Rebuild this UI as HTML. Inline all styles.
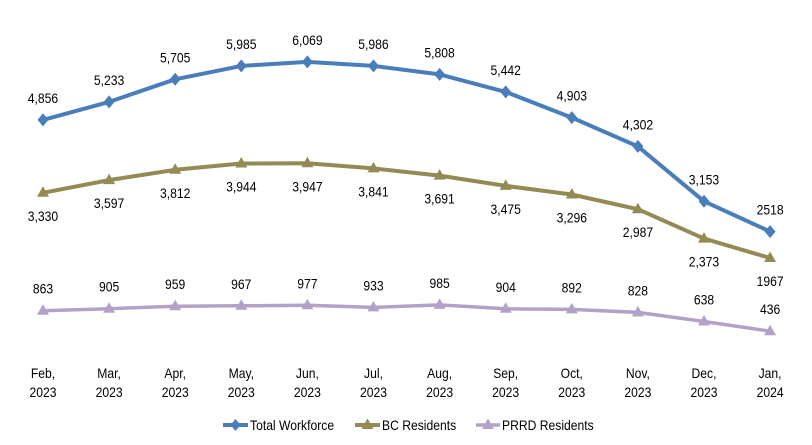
<!DOCTYPE html>
<html><head><meta charset="utf-8"><style>
html,body{margin:0;padding:0;background:#fff;}
svg{display:block;}
text{font-family:"Liberation Sans",Arial,sans-serif;font-size:13.5px;fill:#000;transform-box:fill-box;transform-origin:center;transform:scaleX(0.9);}
text.lg{transform-origin:left center;}
</style></head><body>
<svg width="812" height="445" viewBox="0 0 812 445" xmlns="http://www.w3.org/2000/svg">
<defs>
<marker id="dia" markerUnits="userSpaceOnUse" markerWidth="14" markerHeight="16" refX="7" refY="8" viewBox="0 0 14 16" overflow="visible">
<path d="M7,1.5 L12.5,8 L7,14.5 L1.5,8Z" fill="#4A7EBB"/></marker>
<marker id="triO" markerUnits="userSpaceOnUse" markerWidth="14" markerHeight="14" refX="7" refY="7" viewBox="0 0 14 14" overflow="visible">
<path d="M7,0.5 L13,11 L1,11Z" fill="#948A54"/></marker>
<marker id="triP" markerUnits="userSpaceOnUse" markerWidth="14" markerHeight="14" refX="7" refY="7" viewBox="0 0 14 14" overflow="visible">
<path d="M7,0.5 L13,11 L1,11Z" fill="#B3A2C7"/></marker>
</defs>

<polyline fill="none" stroke="#4A7EBB" stroke-width="4" stroke-linejoin="round" marker-start="url(#dia)" marker-mid="url(#dia)" marker-end="url(#dia)"
points="43,119.9 109.1,101.9 175.2,79.3 241.3,65.9 307.4,61.9 373.5,65.9 439.6,74.4 505.7,91.9 571.8,117.6 637.9,146.4 704,201.3 770.1,231.6"/>
<polyline fill="none" stroke="#948A54" stroke-width="4" stroke-linejoin="round" marker-start="url(#triO)" marker-mid="url(#triO)" marker-end="url(#triO)"
points="43,192.8 109.1,180.1 175.2,169.8 241.3,163.5 307.4,163.3 373.5,168.4 439.6,175.6 505.7,185.9 571.8,194.5 637.9,209.2 704,238.6 770.1,258.0"/>
<polyline fill="none" stroke="#B3A2C7" stroke-width="3.5" stroke-linejoin="round" marker-start="url(#triP)" marker-mid="url(#triP)" marker-end="url(#triP)"
points="43,310.7 109.1,308.7 175.2,306.2 241.3,305.8 307.4,305.3 373.5,307.4 439.6,304.9 505.7,308.8 571.8,309.4 637.9,312.4 704,321.5 770.1,331.2"/>

<g text-anchor="middle">
<text x="43" y="102.9">4,856</text>
<text x="109.1" y="84.9">5,233</text>
<text x="175.2" y="62.3">5,705</text>
<text x="241.3" y="48.9">5,985</text>
<text x="307.4" y="44.9">6,069</text>
<text x="373.5" y="48.9">5,986</text>
<text x="439.6" y="57.4">5,808</text>
<text x="505.7" y="74.9">5,442</text>
<text x="571.8" y="100.6">4,903</text>
<text x="637.9" y="129.4">4,302</text>
<text x="704" y="184.3">3,153</text>
<text x="770.1" y="214.6">2518</text>

<text x="43" y="220.8">3,330</text>
<text x="109.1" y="208.1">3,597</text>
<text x="175.2" y="197.8">3,812</text>
<text x="241.3" y="191.5">3,944</text>
<text x="307.4" y="191.3">3,947</text>
<text x="373.5" y="196.4">3,841</text>
<text x="439.6" y="203.6">3,691</text>
<text x="505.7" y="213.9">3,475</text>
<text x="571.8" y="222.5">3,296</text>
<text x="637.9" y="237.2">2,987</text>
<text x="704" y="266.6">2,373</text>
<text x="770.1" y="286">1967</text>

<text x="43" y="293.7">863</text>
<text x="109.1" y="291.7">905</text>
<text x="175.2" y="289.2">959</text>
<text x="241.3" y="288.8">967</text>
<text x="307.4" y="288.3">977</text>
<text x="373.5" y="290.4">933</text>
<text x="439.6" y="287.9">985</text>
<text x="505.7" y="291.8">904</text>
<text x="571.8" y="292.4">892</text>
<text x="637.9" y="295.4">828</text>
<text x="704" y="304.5">638</text>
<text x="770.1" y="314.2">436</text>

<text x="43" y="378">Feb,</text><text x="43" y="397">2023</text>
<text x="109.1" y="378">Mar,</text><text x="109.1" y="397">2023</text>
<text x="175.2" y="378">Apr,</text><text x="175.2" y="397">2023</text>
<text x="241.3" y="378">May,</text><text x="241.3" y="397">2023</text>
<text x="307.4" y="378">Jun,</text><text x="307.4" y="397">2023</text>
<text x="373.5" y="378">Jul,</text><text x="373.5" y="397">2023</text>
<text x="439.6" y="378">Aug,</text><text x="439.6" y="397">2023</text>
<text x="505.7" y="378">Sep,</text><text x="505.7" y="397">2023</text>
<text x="571.8" y="378">Oct,</text><text x="571.8" y="397">2023</text>
<text x="637.9" y="378">Nov,</text><text x="637.9" y="397">2023</text>
<text x="704" y="378">Dec,</text><text x="704" y="397">2023</text>
<text x="770.1" y="378">Jan,</text><text x="770.1" y="397">2024</text>
</g>

<line x1="223" y1="425" x2="248" y2="425" stroke="#4A7EBB" stroke-width="4"/>
<path d="M235.5,419 L240.5,425 L235.5,431 L230.5,425Z" fill="#4A7EBB"/>
<text class="lg" x="250" y="430">Total Workforce</text>

<line x1="355" y1="425" x2="380" y2="425" stroke="#948A54" stroke-width="4"/>
<path d="M367.5,418.5 L373.5,429 L361.5,429Z" fill="#948A54"/>
<text class="lg" x="382" y="430">BC Residents</text>

<line x1="476" y1="425" x2="500" y2="425" stroke="#B3A2C7" stroke-width="3.5"/>
<path d="M488,418.5 L494,429 L482,429Z" fill="#B3A2C7"/>
<text class="lg" x="502" y="430">PRRD Residents</text>
</svg>
</body></html>
